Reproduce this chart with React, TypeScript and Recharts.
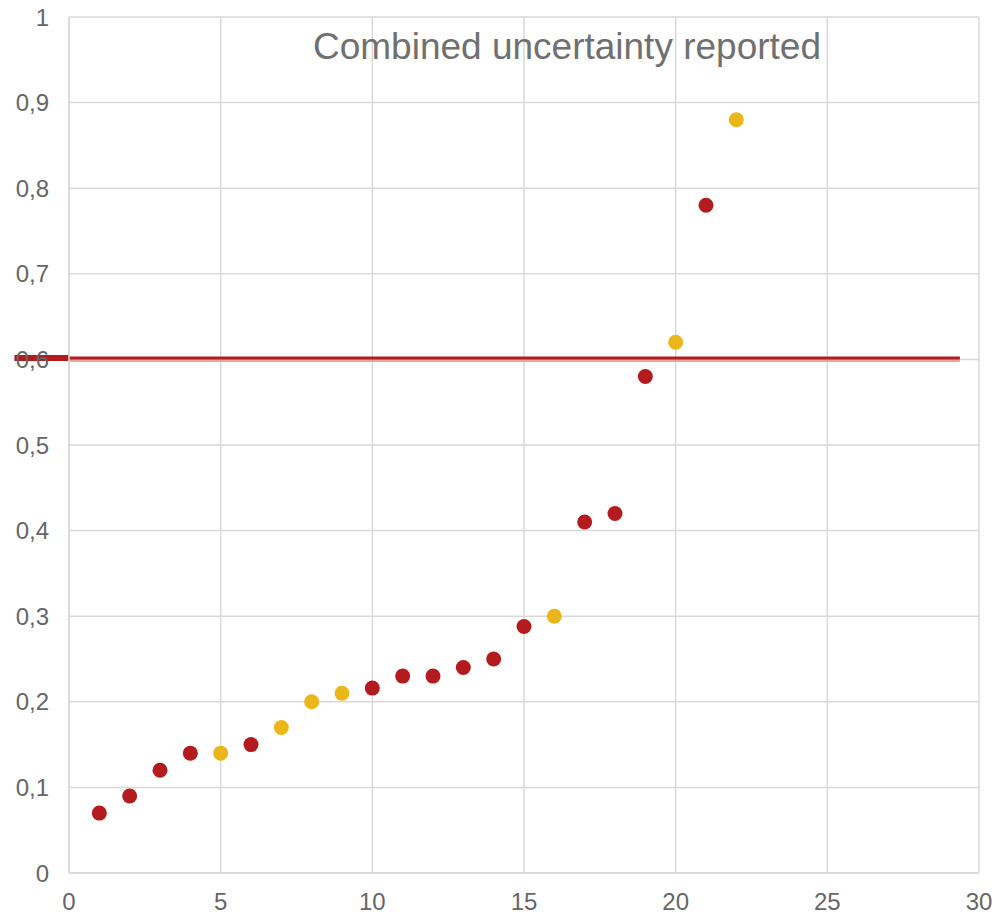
import { ScatterChart, Scatter, XAxis, YAxis, CartesianGrid, ReferenceLine } from "recharts"

// red points (reported)
const redX = [1, 2, 3, 4, 6, 10, 11, 12, 13, 14, 15, 17, 18, 19, 21]
const redY = [0.07, 0.09, 0.12, 0.14, 0.15, 0.216, 0.23, 0.23, 0.24, 0.25, 0.288, 0.41, 0.42, 0.58, 0.78]

// yellow points
const yellowX = [5, 7, 8, 9, 16, 20, 22]
const yellowY = [0.14, 0.17, 0.2, 0.21, 0.3, 0.62, 0.88]

const xTicks = [0, 5, 10, 15, 20, 25, 30]
const yTicks = [0, 0.1, 0.2, 0.3, 0.4, 0.5, 0.6, 0.7, 0.8, 0.9, 1]

// limit line
const limitY = 0.6
const limitStart = -1.8
const limitEnd = 29.37

const redData = redX.map((x, i) => ({ x, y: redY[i] }))
const yellowData = yellowX.map((x, i) => ({ x, y: yellowY[i] }))

const RED = "#B31B1E"
const YELLOW = "#EBB619"
const GRID = "#d9d9d9"
const FONT = "'Liberation Sans', Arial, sans-serif"

const fmtY = (v: number) => (v === 0 || v === 1 ? String(v) : v.toFixed(1).replace(".", ","))

const dot = (color: string) => (props: any) => (
  <circle cx={props.cx} cy={props.cy} r={7.5} fill={color} />
)

export default function App() {
  return (
    <div style={{ position: "absolute", left: 0, top: 0, width: 1000, height: 915, background: "#fff", fontFamily: FONT }}>
      <ScatterChart width={1000} height={915} margin={{ top: 17, right: 21, bottom: 0, left: 9 }}>
        <CartesianGrid stroke={GRID} strokeWidth={1.5} ticks={undefined} />
        <XAxis
          type="number"
          dataKey="x"
          domain={[0, 30]}
          ticks={xTicks}
          allowDataOverflow
          height={42}
          tickLine={false}
          tickSize={0}
          tickMargin={20}
          axisLine={{ stroke: GRID, strokeWidth: 1.5 }}
          tick={{ fill: "#666", fontSize: 24, fontFamily: FONT }}
        />
        <YAxis
          type="number"
          dataKey="y"
          domain={[0, 1]}
          ticks={yTicks}
          allowDataOverflow
          width={60}
          tickLine={false}
          tickSize={0}
          tickMargin={20}
          tickFormatter={fmtY}
          axisLine={{ stroke: GRID, strokeWidth: 1.5 }}
          tick={{ fill: "#666", fontSize: 24, fontFamily: FONT }}
        />
        <ReferenceLine
          segment={[{ x: limitStart, y: limitY }, { x: 0, y: limitY }]}
          ifOverflow="visible"
          stroke={RED}
          shape={(p: any) => (
            <line x1={p.x1} y1={p.y1 - 1.5} x2={p.x2} y2={p.y2 - 1.5} stroke={RED} strokeWidth={6} />
          )}
        />
        <ReferenceLine
          segment={[{ x: 0, y: limitY }, { x: limitEnd, y: limitY }]}
          ifOverflow="visible"
          stroke={RED}
          shape={(p: any) => (
            <g>
              <line x1={p.x1} y1={p.y1} x2={p.x2} y2={p.y2} stroke="#E6A3A3" strokeWidth={5} />
              <line x1={p.x1} y1={p.y1 - 1.5} x2={p.x2} y2={p.y2 - 1.5} stroke={RED} strokeWidth={3} />
            </g>
          )}
        />
        <Scatter data={redData} fill={RED} shape={dot(RED)} isAnimationActive={false} />
        <Scatter data={yellowData} fill={YELLOW} shape={dot(YELLOW)} isAnimationActive={false} />
      </ScatterChart>
      <div
        style={{
          position: "absolute",
          left: 267,
          top: 28,
          width: 600,
          textAlign: "center",
          fontSize: 37,
          lineHeight: "37px",
          color: "#707070",
          whiteSpace: "nowrap",
        }}
      >
        Combined uncertainty reported
      </div>
    </div>
  )
}
